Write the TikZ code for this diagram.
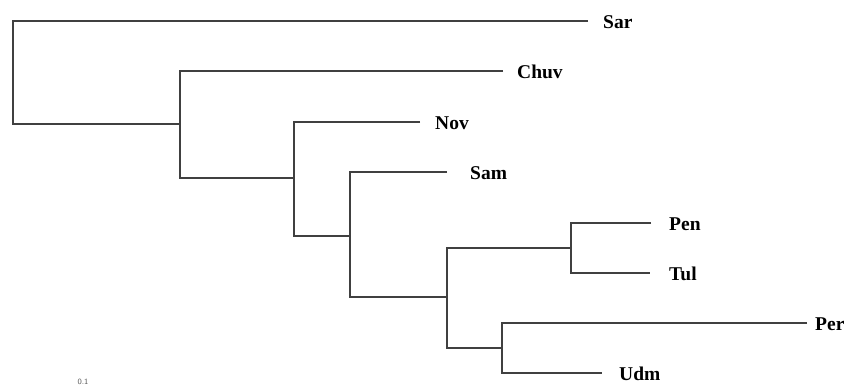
\documentclass[tikz,border=0pt]{standalone}
\usepackage{fontspec}
\setmainfont{Liberation Serif}
\begin{document}
\begin{tikzpicture}[x=1pt,y=-1pt,
  branch/.style={draw=black!75,line width=1.4pt},
  taxon/.style={anchor=west,inner sep=0pt,font=\fontsize{19.5}{21}\selectfont\bfseries},
  scalelbl/.style={font=\fontsize{8}{9}\selectfont\sffamily,text=black!65,inner sep=0pt}]
\useasboundingbox (0,0) rectangle (855,390);
% internal nodes
\coordinate (root) at (13,124);
\coordinate (n1) at (180,124);
\coordinate (n2) at (294,178);
\coordinate (n3) at (350,236);
\coordinate (n4) at (447,297);
\coordinate (n5) at (571,248);
\coordinate (n6) at (502,348);
% leaf ends
\coordinate (sar) at (588,21);
\coordinate (chuv) at (503,71);
\coordinate (nov) at (420,122);
\coordinate (sam) at (447,172);
\coordinate (pen) at (651,223);
\coordinate (tul) at (650,273);
\coordinate (per) at (807,323);
\coordinate (udm) at (602,373);
% branches
\draw[branch] (sar) -| (root) |- (n1);
\draw[branch] (chuv) -| (n1) |- (n2);
\draw[branch] (nov) -| (n2) |- (n3);
\draw[branch] (sam) -| (n3) |- (n4);
\draw[branch] (n5) -| (n4) |- (n6);
\draw[branch] (pen) -| (n5) |- (tul);
\draw[branch] (per) -| (n6) |- (udm);
% labels
\node[taxon] (lsar) at (603,22) {Sar};
\node[taxon] (lchuv) at (517,72) {Chuv};
\node[taxon] (lnov) at (435,123) {Nov};
\node[taxon] (lsam) at (470,173) {Sam};
\node[taxon] (lpen) at (669,224) {Pen};
\node[taxon] (ltul) at (669,274) {Tul};
\node[taxon] (lper) at (815,324) {Per};
\node[taxon] (ludm) at (619,374) {Udm};
% scale
\node[scalelbl] (scale) at (83,382) {0.1};
\end{tikzpicture}
\end{document}
